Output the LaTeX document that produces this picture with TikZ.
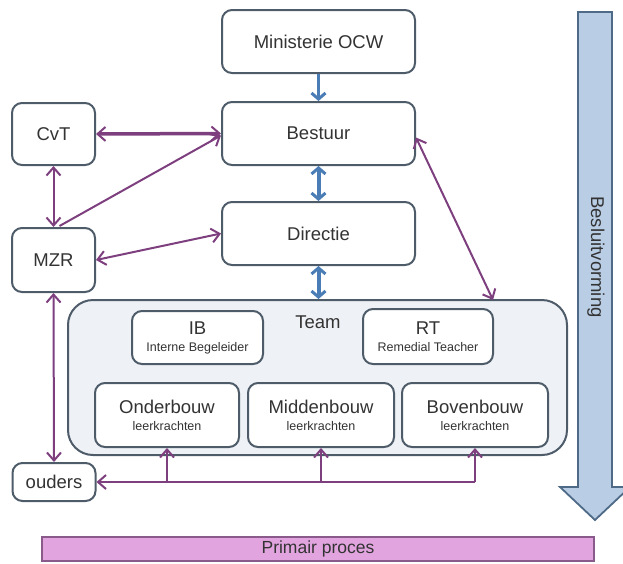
\documentclass[tikz,border=0pt]{standalone}
\usepackage{fontspec}
\setmainfont{Liberation Sans}
\usetikzlibrary{arrows.meta,calc}
\definecolor{boxline}{HTML}{4E5C6A}
\definecolor{txt}{HTML}{333333}
\definecolor{purp}{HTML}{7E3F7F}
\definecolor{blu}{HTML}{4A7DB5}
\definecolor{teamfill}{HTML}{EEF1F5}
\definecolor{pinkfill}{HTML}{E2A4DF}
\definecolor{pinkline}{HTML}{8A5A8A}
\definecolor{arrfill}{HTML}{B9CDE5}
\definecolor{arrline}{HTML}{4F6A86}
\newcommand{\bigf}{\fontsize{18.5}{20}\selectfont}
\newcommand{\smallf}{\fontsize{12.5}{14}\selectfont}
\tikzset{
  orgbox/.style={draw=boxline, line width=2pt, rounded corners=10pt, fill=white,
    text=txt, font=\bigf, align=center, inner sep=0pt},
  ptip/.tip={Straight Barb[length=8pt,width=14pt,line width=2pt]},
  btip/.tip={Straight Barb[length=6pt,width=14pt,line width=3pt]},
  purparr/.style={draw=purp, line width=2pt, ptip-ptip},
  purpup/.style={draw=purp, line width=2pt, -ptip},
  bluarr/.style={draw=blu, line width=4pt, btip-btip},
}
\begin{document}
\begin{tikzpicture}[x=1pt,y=-1pt]
\useasboundingbox (0,0) rectangle (623,563);
\begin{scope}
\clip (0,0) rectangle (623,563);
% big decision arrow
\draw[draw=arrline, fill=arrfill, line width=1.8pt, line join=miter]
  (578,12) -- (612,12) -- (612,487) -- (630,487) -- (595,520) -- (560,487) -- (578,487) -- cycle;
\end{scope}
\node[rotate=-90, text=txt, font=\bigf] (besl) at (596,257) {Besluitvorming};

% Team container
\node[draw=boxline, line width=2pt, rounded corners=25pt, fill=teamfill,
  minimum width=499pt, minimum height=155pt, inner sep=0pt] (team) at (317.5,377.5) {};
\node[text=txt, font=\bigf] (teamlbl) at (318,322) {Team};

% boxes
\node[orgbox, minimum width=193pt, minimum height=63pt] (mocw) at (318.5,41.5) {Ministerie OCW};
\node[orgbox, minimum width=193pt, minimum height=63pt] (bestuur) at (318.5,133.5) {Bestuur};
\node[orgbox, minimum width=193pt, minimum height=63pt] (directie) at (318.5,233.5) {Directie};
\node[orgbox, minimum width=83pt, minimum height=62pt] (cvt) at (53.5,134) {CvT};
\node[orgbox, minimum width=83pt, minimum height=64pt] (mzr) at (53.5,260) {MZR};
\node[orgbox, minimum width=83pt, minimum height=38pt] (ouders) at (54,482) {ouders};

\node[orgbox, minimum width=131pt, minimum height=53pt] (ib) at (197.5,337.5)
  {IB\\[-3pt]{\smallf Interne Begeleider}};
\node[orgbox, minimum width=130pt, minimum height=55pt] (rt) at (428,336.5)
  {RT\\[-3pt]{\smallf Remedial Teacher}};
\node[orgbox, minimum width=144pt, minimum height=64pt] (onder) at (167,415)
  {Onderbouw\\[-3pt]{\smallf leerkrachten}};
\node[orgbox, minimum width=146pt, minimum height=64pt] (midden) at (321,415)
  {Middenbouw\\[-3pt]{\smallf leerkrachten}};
\node[orgbox, minimum width=146pt, minimum height=64pt] (boven) at (475,415)
  {Bovenbouw\\[-3pt]{\smallf leerkrachten}};

% primair proces
\node[draw=pinkline, line width=1.5pt, fill=pinkfill, text=txt, font=\fontsize{17.5}{19}\selectfont,
  minimum width=552pt, minimum height=24pt, inner sep=0pt] (primair) at (318,549) {Primair proces};

% blue arrows
\draw[draw=blu, line width=3pt, -btip] (mocw.south) -- (bestuur.north);
\draw[bluarr] (bestuur.south) -- (directie.north);
\draw[bluarr] (directie.south) -- (team.north -| directie.south);

% purple arrows
\draw[purparr, line width=3.5pt] (cvt.east) -- (bestuur.west);
\draw[purparr] (cvt.south) -- (mzr.north);
\coordinate (mzrtop) at ($(mzr.north)+(6,-1)$);
\draw[purpup] (mzrtop) -- ($(bestuur.west)+(0,2)$);
\draw[purparr] (mzr.east) -- (directie.west);
\coordinate (bestR) at ($(bestuur.east)+(0,4)$);
\coordinate (teamTop) at (493,300);
\draw[purparr] (bestR) -- (teamTop);
\draw[purparr] (mzr.south) -- (ouders.north);

% bus to ouders
\coordinate (busR) at (boven.south |- ouders.east);
\draw[purpup] (busR) -- (ouders.east);
\draw[purpup] (onder.south |- ouders.east) -- (onder.south);
\draw[purpup] (midden.south |- ouders.east) -- (midden.south);
\draw[purpup] (busR) -- (boven.south);
\end{tikzpicture}
\end{document}
